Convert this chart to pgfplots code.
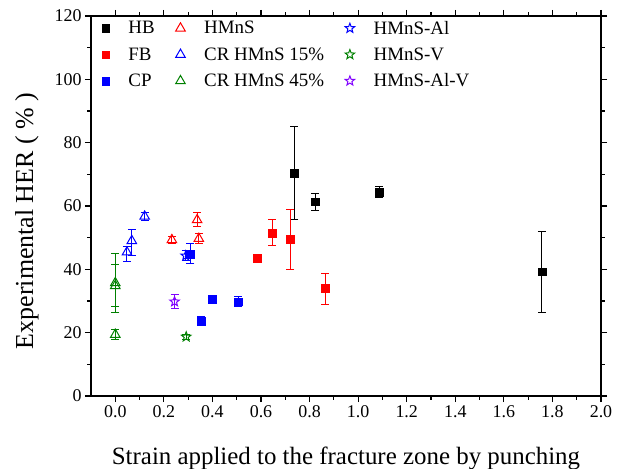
\documentclass[border=0pt]{standalone}
\usepackage{pgfplots}
\pgfplotsset{compat=1.18}
\usepackage{fontspec}
\setmainfont{Liberation Serif}
\definecolor{ogreen}{RGB}{0,128,0}
\definecolor{oviolet}{RGB}{128,0,255}
\pgfdeclareplotmark{ostar}{%
  \pgfpathmoveto{\pgfpointpolar{90}{\pgfplotmarksize}}%
  \pgfpathlineto{\pgfpointpolar{126}{0.42\pgfplotmarksize}}%
  \pgfpathlineto{\pgfpointpolar{162}{\pgfplotmarksize}}%
  \pgfpathlineto{\pgfpointpolar{198}{0.42\pgfplotmarksize}}%
  \pgfpathlineto{\pgfpointpolar{234}{\pgfplotmarksize}}%
  \pgfpathlineto{\pgfpointpolar{270}{0.42\pgfplotmarksize}}%
  \pgfpathlineto{\pgfpointpolar{306}{\pgfplotmarksize}}%
  \pgfpathlineto{\pgfpointpolar{342}{0.42\pgfplotmarksize}}%
  \pgfpathlineto{\pgfpointpolar{18}{\pgfplotmarksize}}%
  \pgfpathlineto{\pgfpointpolar{54}{0.42\pgfplotmarksize}}%
  \pgfpathclose
  \pgfusepathqstroke}
\begin{document}
\begin{tikzpicture}
\path[use as bounding box] (-91bp,-73bp) rectangle (536bp,396bp);
\begin{axis}[
  at={(0,0)}, anchor=south west,
  scale only axis, width=510bp, height=380bp,
  xmin=-0.1, xmax=2.0, ymin=0, ymax=120,
  xtick={0,0.2,...,2.01}, ytick={0,20,...,120},
  minor x tick num=1, minor y tick num=1,
  tick align=outside,
  major tick length=6bp, minor tick length=3.5bp,
  axis line style={line width=1.2bp},
  every tick/.style={black, line width=1.1bp},
  /pgf/number format/assume math mode=true,
  xticklabel style={/pgf/number format/.cd, fixed, fixed zerofill, precision=1},
  ticklabel style={font=\fontsize{18}{20}\selectfont},
  xlabel={Strain applied to the fracture zone by punching},
  ylabel={Experimental HER ( \% )},
  xlabel style={font=\fontsize{25}{27}\selectfont, yshift=-22bp},
  ylabel style={font=\fontsize{26}{28}\selectfont, yshift=9bp, xshift=-15bp},
  legend columns=3, transpose legend,
  legend cell align=left,
  legend style={at={(0.015,0.998)}, anchor=north west, draw=none, fill=none,
    font=\fontsize{19}{21}\selectfont, row sep=8bp,
    /tikz/every odd column/.append style={column sep=17bp},
    /tikz/every even column/.append style={column sep=19bp}},
  error bars/error bar style={line width=1bp},
  error bars/error mark options={rotate=90, mark size=4bp, line width=1bp},
]
% HB
\addplot[only marks, mark=square*, mark size=3.8bp, black,
  error bars/.cd, y dir=both, y explicit] coordinates {
  (0.737,70.4) += (0,14.6) -= (0,14.8)
  (0.823,61.3) += (0,2.7) -= (0,2.7)
  (1.086,64.4) += (0,1.6) -= (0,1.6)
  (1.757,39.2) += (0,12.8) -= (0,12.7)
};
\addlegendentry{HB}
% FB
\addplot[only marks, mark=square*, mark size=3.8bp, red,
  error bars/.cd, y dir=both, y explicit] coordinates {
  (0.584,43.6) += (0,0.6) -= (0,0.6)
  (0.646,51.5) += (0,4.1) -= (0,4.1)
  (0.720,49.6) += (0,9.4) -= (0,9.6)
  (0.864,34.1) += (0,4.7) -= (0,5.1)
};
\addlegendentry{FB}
% CP
\addplot[only marks, mark=square*, mark size=3.8bp, blue,
  error bars/.cd, y dir=both, y explicit] coordinates {
  (0.309,44.8) += (0,3.2) -= (0,3.1)
  (0.354,23.7) += (0,1.5) -= (0,1.5)
  (0.398,30.6) += (0,0.6) -= (0,0.6)
  (0.507,29.8) += (0,1.5) -= (0,1.5)
};
\addlegendentry{CP}
% HMnS
\addplot[only marks, mark=triangle, mark size=5.5bp, red, mark options={line width=1bp},
  error bars/.cd, y dir=both, y explicit] coordinates {
  (0.233,49.3) += (0,1.0) -= (0,1.0)
  (0.337,55.6) += (0,2.2) -= (0,2.2)
  (0.344,49.7) += (0,1.5) -= (0,1.5)
};
\addlegendentry{HMnS}
% CR HMnS 15%
\addplot[only marks, mark=triangle, mark size=5.5bp, blue, mark options={line width=1bp},
  error bars/.cd, y dir=both, y explicit] coordinates {
  (0.121,56.7) += (0,1.4) -= (0,1.4)
  (0.068,49.0) += (0,3.6) -= (0,4.5)
  (0.048,45.4) += (0,1.7) -= (0,2.8)
};
\addlegendentry{CR HMnS 15\%}
% CR HMnS 45%
\addplot[only marks, mark=triangle, mark size=5.5bp, ogreen, mark options={line width=1bp},
  error bars/.cd, y dir=both, y explicit] coordinates {
  (0,35.7) += (0,9.4) -= (0,9.4)
  (0,34.8) += (0,6.6) -= (0,6.6)
  (0,19.4) += (0,1.5) -= (0,1.5)
};
\addlegendentry{CR HMnS 45\%}
% HMnS-Al
\addplot[only marks, mark=ostar, mark size=5bp, blue, mark options={line width=1bp},
  error bars/.cd, y dir=both, y explicit] coordinates {
  (0.290,44.3) += (0,1.5) -= (0,1.5)
};
\addlegendentry{HMnS-Al}
% HMnS-V
\addplot[only marks, mark=ostar, mark size=5bp, ogreen, mark options={line width=1bp},
  error bars/.cd, y dir=both, y explicit] coordinates {
  (0.292,18.7) += (0,0.8) -= (0,0.8)
};
\addlegendentry{HMnS-V}
% HMnS-Al-V
\addplot[only marks, mark=ostar, mark size=5bp, oviolet, mark options={line width=1bp},
  error bars/.cd, y dir=both, y explicit] coordinates {
  (0.244,29.8) += (0,2.3) -= (0,2.3)
};
\addlegendentry{HMnS-Al-V}
\end{axis}
\end{tikzpicture}
\end{document}
